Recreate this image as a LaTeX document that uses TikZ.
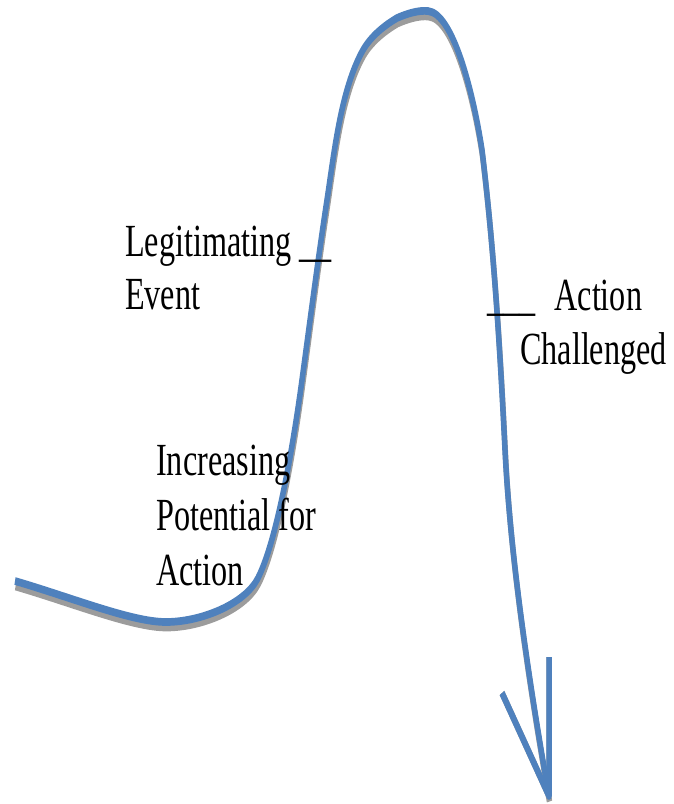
\documentclass[tikz,border=0pt]{standalone}
\usepackage{fontspec}
\newfontfamily\condserif[FakeStretch=0.7]{Liberation Serif}
\definecolor{curveblue}{HTML}{4F81BD}
\definecolor{shadowgray}{HTML}{9C9C9C}
\begin{document}
\begin{tikzpicture}[x=1pt,y=-1pt,
  lbl/.style={anchor=base west,inner sep=0pt,font=\condserif\fontsize{46}{54}\selectfont},
  curvestroke/.style={line width=5.5pt,line cap=butt,line join=round}]
\useasboundingbox (0,0) rectangle (673,804);
\newcommand{\curvepath}{%
  (15,581) .. controls (73,598) and (132,622) .. (166,622)
  .. controls (200,622) and (244.5,604.7) .. (258,578)
  .. controls (278,538) and (294,439) .. (302,380)
  .. controls (310,321) and (318,259) .. (327,200)
  .. controls (334.5,150.5) and (341,89) .. (363,50)
  .. controls (371,36) and (385,25) .. (397,18)
  .. controls (406,14) and (418,10) .. (428,11)
  .. controls (453,13.5) and (473,91) .. (482,150)
  .. controls (494,249) and (500,350) .. (505,450)
  .. controls (510.5,560) and (530,687) .. (549,796)}
\begin{scope}[transform canvas={yscale=1.4},y=-0.7142857pt]
  \coordinate (tip) at (549,796);
  \coordinate (headL) at (502,693);
  \coordinate (headR) at (549,657);
  % shadow
  \begin{scope}[shift={(0.5,5.5)}]
    \draw[curvestroke,shadowgray] \curvepath;
    \draw[curvestroke,shadowgray] (headL) -- (tip) -- (headR);
  \end{scope}
  % main curve
  \draw[curvestroke,curveblue] \curvepath;
  \draw[curvestroke,curveblue] (headL) -- (tip) -- (headR);
\end{scope}
% labels
\node[lbl] (leg1) at (125,256) {Legitimating \_\_};
\node[lbl] (leg2) at (125,309) {Event};
\node[lbl] (act1) at (487,310) {\_\_\_\hspace{19pt}Action};
\node[lbl] (act2) at (520,364) {Challenged};
\node[lbl] (inc1) at (156,475) {Increasing};
\node[lbl] (inc2) at (156,530) {Potential for};
\node[lbl] (inc3) at (156,585) {Action};
\end{tikzpicture}
\end{document}
